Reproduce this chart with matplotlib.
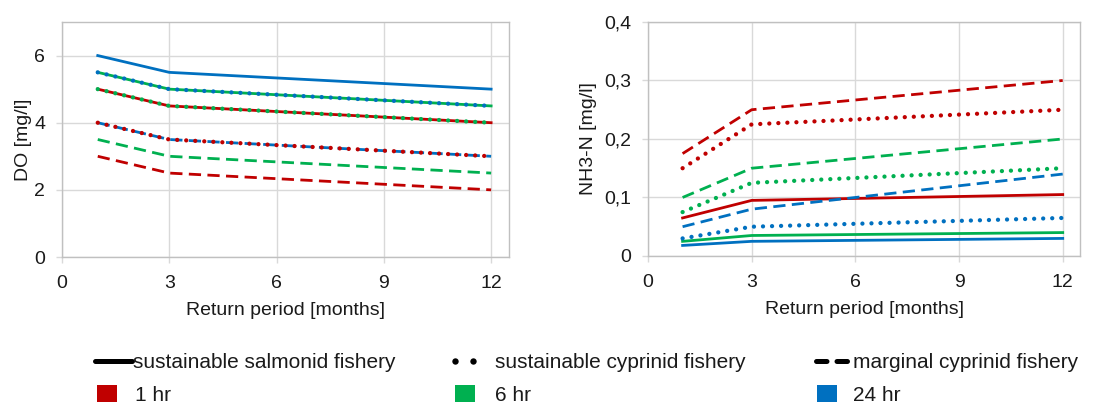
import matplotlib
matplotlib.use("Agg")
import matplotlib.pyplot as plt
from matplotlib.lines import Line2D
from matplotlib.patches import Patch
from matplotlib.ticker import FuncFormatter

plt.rcParams['font.family'] = ['Liberation Sans', 'DejaVu Sans']

# ---- data ----
return_period = [1, 3, 12]
durations = ['1 hr', '6 hr', '24 hr']
colors = ['#C00000', '#00B050', '#0070C0']
fisheries = ['sustainable salmonid fishery', 'sustainable cyprinid fishery', 'marginal cyprinid fishery']

do_salmonid = [[5.0, 4.5, 4.0], [5.5, 5.0, 4.5], [6.0, 5.5, 5.0]]
do_cyprinid = [[4.0, 3.5, 3.0], [5.0, 4.5, 4.0], [5.5, 5.0, 4.5]]
do_marginal = [[3.0, 2.5, 2.0], [3.5, 3.0, 2.5], [4.0, 3.5, 3.0]]

nh3_salmonid = [[0.065, 0.095, 0.105], [0.025, 0.035, 0.040], [0.018, 0.025, 0.030]]
nh3_cyprinid = [[0.150, 0.225, 0.250], [0.075, 0.125, 0.150], [0.030, 0.050, 0.065]]
nh3_marginal = [[0.175, 0.250, 0.300], [0.100, 0.150, 0.200], [0.050, 0.080, 0.140]]

xticks = [0, 3, 6, 9, 12]
do_yticks = [0, 2, 4, 6]
nh3_yticks = [0, 0.1, 0.2, 0.3, 0.4]

# ---- styles ----
LW = 2.0
solid = dict(linestyle='-', linewidth=LW)
dashed = dict(linestyle=(0, (4.4, 2.3)), linewidth=LW, dash_capstyle='butt')
dotted = dict(linestyle=(0, (0.01, 2.09)), linewidth=3.1, dash_capstyle='round')

FS_TICK = 14
FS_LAB = 14
FS_LEG = 15

fig = plt.figure(figsize=(11.15, 4.05), dpi=100)
ax1 = fig.add_axes([0.0556, 0.3654, 0.4009, 0.5803])
ax2 = fig.add_axes([0.5812, 0.3680, 0.3874, 0.5777])

GRID = '#d9d9d9'
FRAME = '#c0c0c0'
TXT = '#1a1a1a'


def draw(ax, salm, cyp, marg):
    for i, c in enumerate(colors):
        ax.plot(return_period, salm[i], color=c, zorder=3, **solid)
    for i, c in enumerate(colors):
        ax.plot(return_period, marg[i], color=c, zorder=4, **dashed)
    for i, c in enumerate(colors):
        ax.plot(return_period, cyp[i], color=c, zorder=5, **dotted)
    ax.set_xlim(0, 12.5)
    ax.set_xticks(xticks)
    ax.grid(True, color=GRID, linewidth=1.0, zorder=0)
    ax.set_axisbelow(True)
    for s in ax.spines.values():
        s.set_color(FRAME)
        s.set_linewidth(1.0)
    ax.tick_params(axis='both', colors=GRID, labelcolor=TXT, labelsize=FS_TICK,
                   length=4.5, width=1.0, pad=7.5)
    ax.tick_params(axis='x', pad=8.5)
    ax.set_xlabel('Return period [months]', fontsize=FS_LAB, color=TXT, labelpad=7)


draw(ax1, do_salmonid, do_cyprinid, do_marginal)
ax1.set_ylim(0, 7)
ax1.set_yticks(do_yticks)
ax1.set_ylabel('DO [mg/l]', fontsize=FS_LAB, color=TXT, labelpad=2)

draw(ax2, nh3_salmonid, nh3_cyprinid, nh3_marginal)
ax2.set_ylim(0, 0.4)
ax2.set_yticks(nh3_yticks)
ax2.yaxis.set_major_formatter(FuncFormatter(lambda v, p: '0' if v == 0 else f'{v:.1f}'.replace('.', ',')))
ax2.set_ylabel('NH3-N [mg/l]', fontsize=FS_LAB, color=TXT, labelpad=5.5)

# ---- legend: one small legend per entry, arranged in 2 rows x 3 columns ----
W, H = 1115.0, 405.0
em = FS_LEG * 100 / 72.0  # font size in pixels

style_handles = [
    Line2D([], [], color='black', linestyle='-', linewidth=3.6, solid_capstyle='round'),
    Line2D([], [], color='black', linestyle='None', marker='o', markersize=4.6,
           markeredgewidth=0),
    Line2D([], [], color='black', linestyle=(0, (2.1, 2.0)), linewidth=3.6,
           dash_capstyle='round'),
]
color_handles = [Patch(facecolor=c, edgecolor='none') for c in colors]

# (left px, centre y px, handle length px, handle-text pad px, numpoints)
style_pos = [(95, 363, 37, 1, 1), (449, 363, 30, 16, 2), (816, 363, 32, 5, 1)]
color_pos = [(97, 395, 20, 18), (455, 395, 20, 20), (817, 395, 20, 16)]

for j in range(3):
    x0, y0, hl, tp, npts = style_pos[j]
    leg = fig.legend([style_handles[j]], [fisheries[j]], loc='center left',
                     bbox_to_anchor=(x0 / W, 1 - y0 / H), frameon=False,
                     fontsize=FS_LEG, handlelength=hl / em, handleheight=0.7,
                     handletextpad=tp / em, borderpad=0, borderaxespad=0,
                     numpoints=npts)
    for t in leg.get_texts():
        t.set_color(TXT)

    x0, y0, hl, tp = color_pos[j]
    leg = fig.legend([color_handles[j]], [durations[j]], loc='center left',
                     bbox_to_anchor=(x0 / W, 1 - y0 / H), frameon=False,
                     fontsize=FS_LEG, handlelength=hl / em, handleheight=17 / em,
                     handletextpad=tp / em, borderpad=0, borderaxespad=0)
    for t in leg.get_texts():
        t.set_color(TXT)

fig.savefig('out.png', dpi=100)
